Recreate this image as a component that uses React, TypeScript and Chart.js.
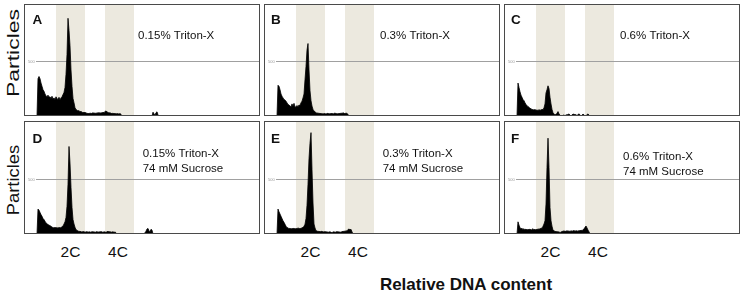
import React, { useEffect, useRef } from "react";
import { Chart, registerables } from "chart.js";

Chart.register(...registerables);

// ---------------- data ----------------
// histogram counts per DNA channel, starting at channel 12 (one value per channel)
const firstChannel = 12;

const seriesA = [
  0, 0, 340, 360, 340, 300, 270, 240, 225, 200,
  185, 175, 190, 170, 175, 160, 180, 155, 165, 150,
  175, 160, 150, 170, 145, 165, 175, 195, 215, 260,
  380, 560, 890, 780, 640, 420, 270, 160, 120, 75,
  60, 52, 45, 50, 38, 42, 35, 30, 34, 28,
  30, 22, 25, 20, 28, 22, 25, 30, 24, 28,
  22, 30, 26, 32, 25, 30, 28, 34, 30, 42,
  45, 38, 32, 28, 30, 24, 22, 26, 20, 24,
  18, 22, 20, 18, 22, 15, 0, 0, 0, 0,
  0, 0, 0, 0, 0, 0, 0, 0, 0, 0,
  0, 0, 0, 0, 0, 0, 0, 0, 0, 0,
  0, 0, 0, 0, 0, 0, 0, 35, 20, 10,
  30, 38, 12, 0, 0,
];

const seriesB = [
  0, 0, 280, 270, 240, 200, 180, 165, 150, 145,
  135, 120, 105, 100, 90, 85, 110, 90, 115, 85,
  80, 95, 85, 100, 95, 120, 135, 165, 200, 330,
  450, 600, 660, 420, 230, 140, 90, 60, 45, 38,
  30, 25, 28, 22, 25, 20, 22, 18, 22, 20,
  18, 22, 25, 18, 22, 20, 25, 18, 22, 28,
  20, 22, 18, 25, 20, 28, 22, 30, 25, 20,
  28, 22, 15, 0, 0,
];

const seriesC = [
  0, 0, 300, 260, 220, 190, 170, 150, 140, 120,
  105, 95, 85, 80, 70, 65, 60, 58, 55, 60,
  52, 55, 50, 58, 52, 55, 60, 58, 75, 110,
  210, 240, 275, 250, 170, 110, 60, 30, 18, 10,
  15, 25, 40, 20, 8, 0, 0, 5, 10, 0,
  12, 8, 15, 18, 10, 0, 12, 15, 18, 10,
  14, 0, 15, 18, 12, 0, 10, 16, 12, 0,
  0, 14, 18, 10, 0, 0,
];

const seriesD = [
  0, 0, 225, 215, 195, 175, 160, 140, 130, 115,
  100, 92, 85, 80, 75, 70, 62, 58, 55, 60,
  55, 58, 52, 60, 55, 58, 65, 72, 90, 110,
  150, 250, 450, 790, 640, 420, 240, 130, 90, 60,
  40, 32, 28, 22, 25, 20, 18, 22, 20, 15,
  18, 22, 15, 20, 18, 15, 22, 18, 20, 15,
  18, 22, 15, 20, 18, 22, 18, 15, 20, 18,
  15, 20, 25, 18, 22, 15, 18, 20, 15, 18,
  12, 0, 0, 0, 0, 0, 0, 0, 0, 0,
  0, 0, 0, 0, 0, 0, 0, 0, 0, 0,
  0, 0, 0, 0, 0, 0, 0, 0, 0, 0,
  25, 45, 50, 30, 20, 42, 35, 0, 0, 0,
];

const seriesE = [
  0, 0, 225, 200, 180, 160, 140, 120, 105, 88,
  70, 58, 55, 48, 52, 45, 50, 48, 52, 45,
  50, 48, 55, 50, 48, 52, 55, 60, 70, 88,
  140, 260, 450, 680, 820, 915, 580, 280, 90, 55,
  30, 27, 22, 25, 20, 22, 25, 18, 20, 22,
  18, 20, 15, 18, 20, 15, 12, 18, 20, 15,
  18, 22, 18, 20, 15, 18, 20, 25, 22, 28,
  25, 30, 40, 45, 38, 42, 20, 0, 0, 0,
];

const seriesF = [
  0, 0, 110, 80, 58, 45, 52, 40, 48, 38,
  45, 35, 42, 38, 45, 35, 40, 48, 38, 42,
  35, 45, 40, 48, 42, 55, 50, 70, 90, 120,
  270, 600, 865, 600, 240, 120, 70, 35, 28, 25,
  20, 22, 18, 20, 12, 18, 22, 25, 28, 22,
  25, 30, 25, 28, 22, 30, 25, 28, 32, 25,
  30, 28, 25, 32, 28, 35, 30, 38, 45, 60,
  72, 55, 35, 20, 0, 0, 0,
];

const panelSeries = [seriesA, seriesB, seriesC, seriesD, seriesE, seriesF];
const panelLetters = ["A", "B", "C", "D", "E", "F"];
const panelConditions = [
  ["0.15% Triton-X"],
  ["0.3% Triton-X"],
  ["0.6% Triton-X"],
  ["0.15% Triton-X", "74 mM Sucrose"],
  ["0.3% Triton-X", "74 mM Sucrose"],
  ["0.6% Triton-X", "74 mM Sucrose"],
];
// gates in channel units
const gateRanges = [
  [32, 61],
  [81, 110],
];
const gateLabels = ["2C", "4C"];
const gateLabelChannels = [46.5, 94];
const yTickValues = [500];
const yTickLabels = ["500"];
const xAxisTitle = "Relative DNA content";
const yAxisTitle = "Particles";
const channelMax = 236;
const countMax = 1020;

// ---------------- layout ----------------
const colLeft = [24, 264, 504];
const rowTop = [4, 121];
const panelW = 236;
const rowH = [112, 113];
const letterX = [8.5, 7, 7];
const letterBase = [19.5, 22];
const condX = [114, 116, 116, 118.7, 118.7, 119];
const condBase = [[34.5], [34.5], [34.5], [35.5, 50.5], [35.5, 50.5], [38.5, 54]];
const bandColor = "#ece9df";
const font = '"Liberation Sans", Arial, sans-serif';

function makeDecor(index: number) {
  return {
    id: "panelDecor" + index,
    beforeDatasetsDraw(chart: any) {
      const { ctx, chartArea: a, scales } = chart;
      const x = scales.x;
      const y = scales.y;
      ctx.save();
      ctx.fillStyle = bandColor;
      for (const [g0, g1] of gateRanges) {
        const x0 = x.getPixelForValue(g0);
        const x1 = x.getPixelForValue(g1);
        ctx.fillRect(x0, a.top, x1 - x0, a.bottom - a.top);
      }
      yTickValues.forEach((v, i) => {
        const gy = Math.round(y.getPixelForValue(v)) + 0.5;
        ctx.strokeStyle = "#a0a0a0";
        ctx.lineWidth = 1;
        ctx.beginPath();
        ctx.moveTo(x.getPixelForValue(12), gy);
        ctx.lineTo(a.right, gy);
        ctx.stroke();
        ctx.fillStyle = "#999";
        ctx.font = "4px " + font;
        ctx.textBaseline = "middle";
        ctx.textAlign = "left";
        ctx.fillText(yTickLabels[i], x.getPixelForValue(4), gy);
      });
      ctx.restore();
    },
    afterDraw(chart: any) {
      const { ctx, width, height } = chart;
      const row = index < 3 ? 0 : 1;
      const col = index % 3;
      ctx.save();
      ctx.strokeStyle = "#4a4a4a";
      ctx.lineWidth = 1;
      ctx.strokeRect(0.5, 0.5, width - 1, height - 1);
      ctx.fillStyle = "#111";
      ctx.textAlign = "left";
      ctx.textBaseline = "alphabetic";
      ctx.font = "bold 13.5px " + font;
      ctx.fillText(panelLetters[index], letterX[col], letterBase[row]);
      ctx.font = "11.5px " + font;
      panelConditions[index].forEach((t, i) => {
        ctx.fillText(t, condX[index], condBase[index][i]);
      });
      ctx.restore();
    },
  };
}

function Panel({ index }: { index: number }) {
  const ref = useRef<HTMLCanvasElement>(null);
  const row = index < 3 ? 0 : 1;
  const col = index % 3;
  const w = panelW;
  const h = rowH[row];
  useEffect(() => {
    const values = panelSeries[index];
    const chart = new Chart(ref.current as HTMLCanvasElement, {
      type: "line",
      data: {
        datasets: [
          {
            data: values.map((v, i) => ({ x: firstChannel + i, y: v })),
            borderColor: "#000",
            borderWidth: 0.8,
            backgroundColor: "#000",
            fill: "origin",
            pointRadius: 0,
            tension: 0,
          },
        ],
      },
      options: {
        animation: false,
        responsive: false,
        maintainAspectRatio: false,
        events: [],
        layout: { padding: 0 },
        plugins: { legend: { display: false }, tooltip: { enabled: false } },
        scales: {
          x: { type: "linear", display: false, min: 0, max: channelMax },
          y: { display: false, min: 0, max: countMax },
        },
      },
      plugins: [makeDecor(index)],
    } as any);
    return () => chart.destroy();
  }, [index]);
  return (
    <canvas
      ref={ref}
      width={w}
      height={h}
      style={{ position: "absolute", left: colLeft[col], top: rowTop[row], width: w, height: h }}
    />
  );
}

export default function App() {
  const yTitleRows = [
    { cy: 52.5, stretch: 1.35 },
    { cy: 180, stretch: 1.08 },
  ];
  return (
    <div
      style={{
        position: "fixed",
        left: 0,
        top: 0,
        width: 743,
        height: 296,
        background: "#fff",
        overflow: "hidden",
        fontFamily: font,
        color: "#111",
      }}
    >
      {panelSeries.map((_, i) => (
        <Panel key={i} index={i} />
      ))}
      {yTitleRows.map((r, i) => (
        <div
          key={"yt" + i}
          style={{
            position: "absolute",
            left: 13,
            top: r.cy,
            fontSize: 17,
            lineHeight: 1,
            whiteSpace: "nowrap",
            transform: `translate(-50%, -50%) rotate(-90deg) scaleX(${r.stretch})`,
          }}
        >
          {yAxisTitle}
        </div>
      ))}
      {colLeft.map((cl, c) =>
        gateLabels.map((g, j) => (
          <div
            key={"g" + c + j}
            style={{
              position: "absolute",
              left: cl + gateLabelChannels[j] - 30,
              width: 60,
              top: 244.4,
              textAlign: "center",
              fontSize: 15.5,
              lineHeight: 1,
            }}
          >
            {g}
          </div>
        ))
      )}
      <div
        style={{
          position: "absolute",
          left: 466 - 150,
          width: 300,
          top: 275.6,
          textAlign: "center",
          fontSize: 17,
          fontWeight: "bold",
          lineHeight: 1,
        }}
      >
        {xAxisTitle}
      </div>
    </div>
  );
}
